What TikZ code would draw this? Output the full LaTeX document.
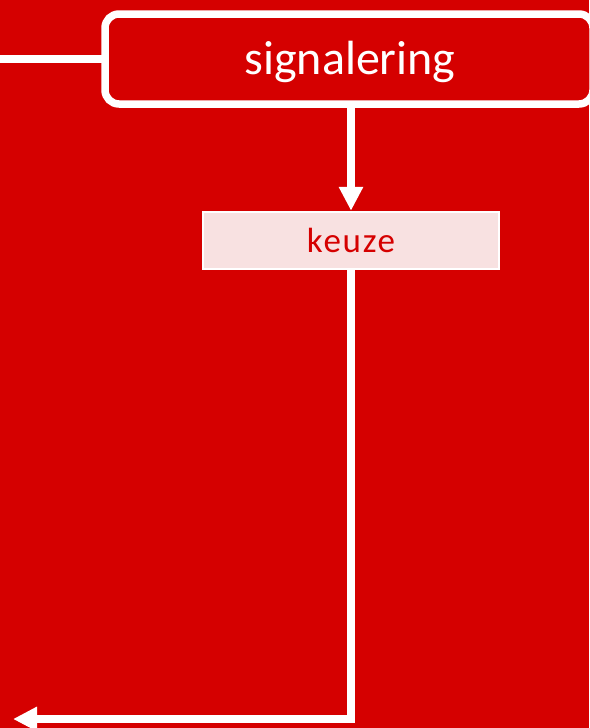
\documentclass[tikz,border=0pt]{standalone}
\usepackage{fontspec}
\setmainfont{Carlito}
\usetikzlibrary{arrows.meta}
\definecolor{bgred}{RGB}{213,0,0}
\definecolor{keuzefill}{RGB}{248,225,225}
\tikzset{
  wline/.style={draw=white, line width=7.5pt},
  warrow/.style={wline, -{Triangle[length=24pt,width=23pt]}},
  bigbox/.style={draw=white, line width=7.5pt, rounded corners=14pt, fill=bgred},
  smallbox/.style={draw=white, line width=2.5pt, fill=keuzefill, text=bgred, font=\fontsize{35}{40}\selectfont\addfontfeatures{LetterSpace=5}}
}
\begin{document}
\begin{tikzpicture}[x=1pt,y=-1pt]
\fill[bgred] (0,0) rectangle (589,728);
\useasboundingbox (0,0) rectangle (589,728);
% signalering box (extends beyond right edge)
\draw[bigbox] (105,14) rectangle (593,104);
\node[text=white, font=\fontsize{48}{56}\selectfont, inner sep=0pt] (sig) at (350,62) {signalering};
\coordinate (sigW) at (105,59);
\coordinate (sigS) at (351,104);
\coordinate (leftin) at (0,59);
\node[smallbox, minimum width=296pt, minimum height=57pt, inner sep=0pt] (keuze) at (351,240.5) {keuze};
\coordinate (corner) at (351,719);
\coordinate (leftout) at (13,719);
\draw[wline] (leftin) -- (sigW);
\draw[warrow] (sigS) -- (keuze.north);
\draw[warrow] (keuze.south) -- (corner) -- (leftout);
\end{tikzpicture}
\end{document}
